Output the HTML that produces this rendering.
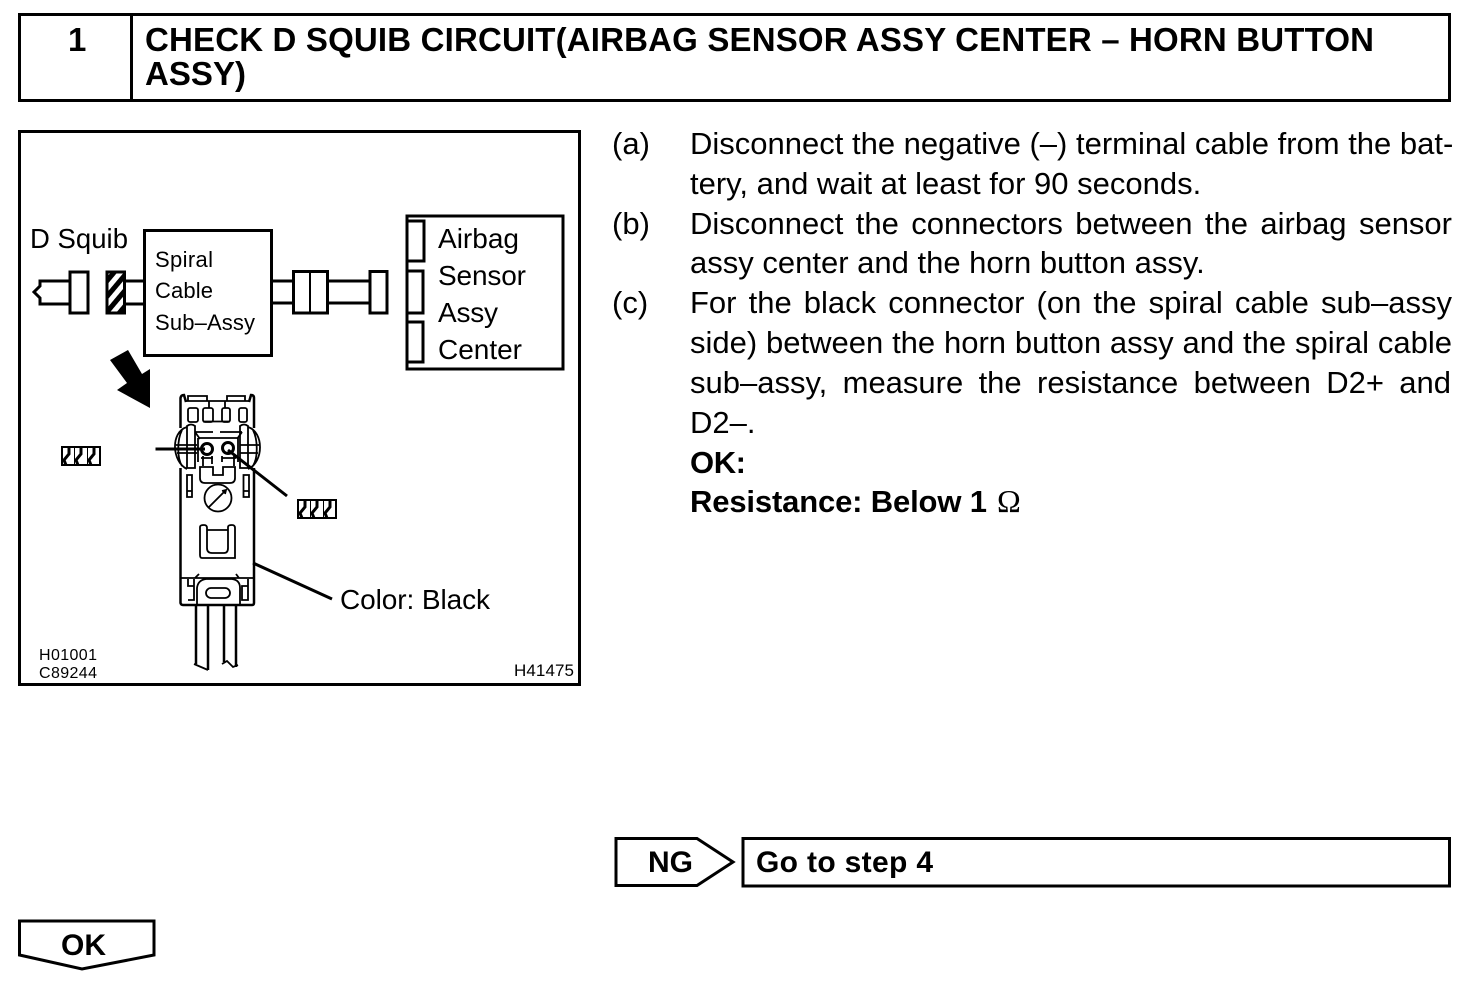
<!DOCTYPE html>
<html><head><meta charset="utf-8">
<style>
html,body{margin:0;padding:0;background:#fff;width:1472px;height:1004px;overflow:hidden}
svg{position:absolute;left:0;top:0}
text{font-family:"Liberation Sans",sans-serif;fill:#000}
.b{font-weight:bold}
.l{position:absolute;left:690px;width:761px;height:40px;line-height:40px;font:31px/40px "Liberation Sans",sans-serif;text-align:justify;text-align-last:justify;white-space:nowrap;color:#000}
</style></head><body>
<svg width="1472" height="1004" viewBox="0 0 1472 1004" xmlns="http://www.w3.org/2000/svg">
<defs><pattern id="h" width="10" height="10" patternUnits="userSpaceOnUse" patternTransform="rotate(-50)"><rect width="10" height="10" fill="#fff"/><rect width="10" height="5" fill="#000"/></pattern></defs>
<g fill="none" stroke="#000" stroke-width="3">
<rect x="19.500" y="14.500" width="1430" height="86"/>
<path d="M131.500 14V100"/>
<rect x="19.500" y="131.500" width="560" height="553"/>
<rect x="144.500" y="230.500" width="127" height="125"/>
<rect x="70" y="272" width="18" height="41"/>
<path d="M70 281H40V286L34 292L40 298V304H70"/>
<rect x="107" y="272" width="17.500" height="41" fill="url(#h)"/>
<path d="M125 281H146M125 304H146"/>
<path d="M271 281H293M271 303H293M328 281H369M328 303H369"/>
<rect x="293.500" y="271.500" width="34" height="41.500"/>
<path d="M310 271V313" stroke-width="2"/>
<rect x="370" y="271.500" width="17" height="41.500"/>
<rect x="407" y="216" width="156" height="153"/>
<path d="M407 221H424V261H407M407 271H423V313H407M407 322H423V362H407"/>
<path d="M253 563L332 599M155.500 449H205M228 450L287 496"/>
</g>
<polygon points="110,360 128,350 142,374 150,369 150,408 117,390 127,383"/>
<!-- connector -->
<g fill="none" stroke="#000" stroke-width="1.800">
<!-- body -->
<path d="M180.500 428V398Q181 395 184 395L186 402M254 428V398Q254 395 251 395L249 402" stroke-width="2.500"/>
<path d="M180.500 468V603Q181 605 183 605H252Q254 605 254 603V468" stroke-width="2.500"/>
<path d="M188 401V396H207V401M227 401V396H245V401M186 401H249"/>
<path d="M209 401V408M225 401V408M203 421.500H230"/>
<rect x="188" y="408" width="10" height="14" rx="2"/><rect x="203" y="408" width="10" height="14" rx="2"/><rect x="222" y="408" width="8" height="14" rx="2"/><rect x="239" y="408" width="8" height="14" rx="2"/>
<!-- ears -->
<path d="M187 427C170 432 172 462 187 469M182 430C177 440 177 458 182 466M248 427C264 432 264 462 248 469M253 430C258 440 258 458 253 466"/>
<path d="M187 426Q191 423 195 426V468H187ZM240 426Q244 423 248 426V468H240Z"/>
<path d="M176 445H197M177 453H197M240 445H259M240 453H258"/>
<!-- center block -->
<path d="M195 432H213M220 432H242M198 438H238M195 432L200 439M242 432L237 439M198 438V462M238 438V462"/>
<circle cx="207" cy="449" r="5.500" stroke-width="3"/>
<circle cx="228" cy="448" r="5.500" stroke-width="3"/>
<path d="M203 456V466M212 456V464M222 456V462M234 456V466M201 458H213M222 458H236"/>
<path d="M200 467H213V475H223V467H235V478Q235 483 230 483H205Q200 483 200 478Z"/>
<path d="M187 475H192V497H187ZM243.500 475H249V497H243.500ZM187 491H192M243.500 491H249"/>
<circle cx="218" cy="498" r="13.500"/><path d="M209 507L226 490M222 491L226 490L225 494"/>
<path d="M207 530H228M207 530V548Q207 553 212 553H224Q228 553 228 548V527Q228 525 232 525Q235 525 235 528V558H202Q200 558 200 555V527Q200 525 204 525Q207 525 207 528V530"/>
<path d="M181 578H253M197 605V588Q198 580 206 579H232Q240 580 240 588V605M195 578L199 574M239 578L236 574"/>
<path d="M188 579V586H194V600H188M194 579V586M242 586H248V600H242ZM248 579V586"/>
<rect x="206" y="588" width="24" height="10" rx="5"/>
<path d="M196 605V664M208 605V670M224 605V662M236 605V667" stroke-width="2.500"/>
<path d="M194 664L208 670M222 664L227 661L233 667L238 665" stroke-width="1.800"/>
</g>
<!-- terminal labels -->
<g id="t1">
<rect x="61" y="446" width="40" height="20"/>
<rect x="63" y="448" width="11" height="16" fill="#fff"/><rect x="75" y="448" width="12" height="16" fill="#fff"/><rect x="88" y="448" width="11" height="16" fill="#fff"/>
<path d="M69 448V454L64 460L66 465M81 448V454L76 460L78 465M94 448V454L89 460L91 465" fill="none" stroke="#000" stroke-width="3"/>
</g>
<g transform="translate(236,53)">
<rect x="61" y="446" width="40" height="20"/>
<rect x="63" y="448" width="11" height="16" fill="#fff"/><rect x="75" y="448" width="12" height="16" fill="#fff"/><rect x="88" y="448" width="11" height="16" fill="#fff"/>
<path d="M69 448V454L64 460L66 465M81 448V454L76 460L78 465M94 448V454L89 460L91 465" fill="none" stroke="#000" stroke-width="3"/>
</g>
<!-- diagram labels -->
<text x="30" y="248" font-size="27.500" textLength="98">D Squib</text>
<text x="155" y="267" font-size="22" textLength="58">Spiral</text>
<text x="155" y="298" font-size="22" textLength="58">Cable</text>
<text x="155" y="330" font-size="22" textLength="100">Sub–Assy</text>
<text x="438" y="248" font-size="28" textLength="81">Airbag</text>
<text x="438" y="285" font-size="28" textLength="88">Sensor</text>
<text x="438" y="322" font-size="28" textLength="60">Assy</text>
<text x="438" y="359" font-size="28" textLength="84">Center</text>
<text x="340" y="609" font-size="28" textLength="150">Color: Black</text>
<text x="39" y="660" font-size="16" textLength="58">H01001</text>
<text x="39" y="678" font-size="16" textLength="58">C89244</text>
<text x="514" y="676" font-size="17" textLength="60">H41475</text>
<!-- header -->
<text class="b" x="68" y="51" font-size="33">1</text>
<text class="b" x="145" y="51" font-size="33" textLength="1229">CHECK D SQUIB CIRCUIT(AIRBAG SENSOR ASSY CENTER – HORN BUTTON</text>
<text class="b" x="145" y="85" font-size="33" textLength="101">ASSY)</text>
<!-- markers -->
<text x="612" y="154" font-size="31">(a)</text>
<text x="612" y="234" font-size="31">(b)</text>
<text x="612" y="313" font-size="31">(c)</text>
<text class="b" x="690" y="473" font-size="31" textLength="56">OK:</text>
<text class="b" x="690" y="512" font-size="31" textLength="297">Resistance: Below 1</text>
<text x="997" y="512" font-size="32" style="font-family:'Liberation Serif',serif">Ω</text>
<!-- NG / OK -->
<path d="M616 838.500H697L733 862L697 885.500H616Z" fill="none" stroke="#000" stroke-width="3"/>
<rect x="743" y="838.500" width="706.500" height="47.500" fill="none" stroke="#000" stroke-width="3"/>
<text class="b" x="648" y="872" font-size="30" textLength="45">NG</text>
<text class="b" x="756" y="872" font-size="30" textLength="177">Go to step 4</text>
<path d="M19.500 921H154V955L82 969L19.500 955Z" fill="none" stroke="#000" stroke-width="3"/>
<text class="b" x="61" y="955" font-size="30" textLength="45">OK</text>
</svg>
<div class="l" style="top:124px">Disconnect the negative (–) terminal cable from the bat-</div>
<div class="l" style="top:164px;text-align:left;text-align-last:left">tery, and wait at least for 90 seconds.</div>
<div class="l" style="top:204px;width:762px">Disconnect the connectors between the airbag sensor</div>
<div class="l" style="top:243px;text-align:left;text-align-last:left">assy center and the horn button assy.</div>
<div class="l" style="top:283px;width:762px">For the black connector (on the spiral cable sub–assy</div>
<div class="l" style="top:323px;width:762px">side) between the horn button assy and the spiral cable</div>
<div class="l" style="top:363px">sub–assy, measure the resistance between D2+ and</div>
<div class="l" style="top:403px;text-align:left;text-align-last:left">D2–.</div>
</body></html>
